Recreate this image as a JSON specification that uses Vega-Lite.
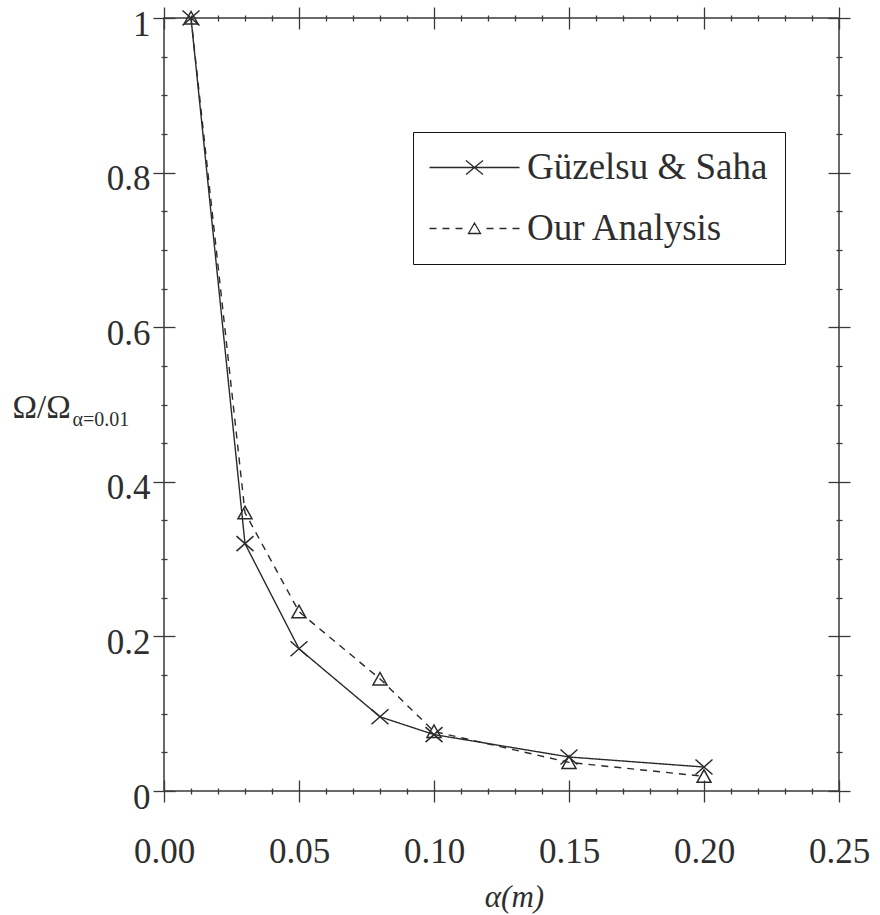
{
  "$schema": "https://vega.github.io/schema/vega-lite/v6.json",
  "width": 675,
  "height": 773,
  "autosize": {"type": "none"},
  "padding": {"left": 164, "top": 18, "right": 41, "bottom": 124},
  "background": "white",
  "config": {
    "view": {"stroke": "#3a3a3a", "strokeWidth": 1.5},
    "axis": {"grid": false, "domain": false, "tickColor": "#3a3a3a", "tickWidth": 1.3, "labelFont": "Liberation Serif", "titleFont": "Liberation Serif", "labelColor": "#2e2e2e", "titleColor": "#2e2e2e", "titleFontWeight": "normal", "labelFlush": false, "labelOverlap": false},
    "legend": {
      "title": null, "orient": "none", "direction": "vertical", "legendX": 249, "legendY": 114,
      "padding": 17, "strokeColor": "#111", "fillColor": "white",
      "labelFont": "Liberation Serif", "labelFontSize": 37, "labelColor": "#2e2e2e", "labelLimit": 0,
      "symbolSize": 400, "symbolOffset": 26, "labelOffset": 34, "rowPadding": 23,
      "symbolOpacity": 1, "symbolStrokeColor": "#2a2a2a", "symbolStrokeWidth": 1.3, "symbolFillColor": "transparent"
    }
  },
  "data": {"values": [
    {"a": 0.01, "r": 1.0, "s": "Güzelsu & Saha"},
    {"a": 0.03, "r": 0.32, "s": "Güzelsu & Saha"},
    {"a": 0.05, "r": 0.184, "s": "Güzelsu & Saha"},
    {"a": 0.08, "r": 0.096, "s": "Güzelsu & Saha"},
    {"a": 0.10, "r": 0.073, "s": "Güzelsu & Saha"},
    {"a": 0.15, "r": 0.044, "s": "Güzelsu & Saha"},
    {"a": 0.20, "r": 0.031, "s": "Güzelsu & Saha"},
    {"a": 0.01, "r": 1.0, "s": "Our Analysis"},
    {"a": 0.03, "r": 0.36, "s": "Our Analysis"},
    {"a": 0.05, "r": 0.232, "s": "Our Analysis"},
    {"a": 0.08, "r": 0.145, "s": "Our Analysis"},
    {"a": 0.10, "r": 0.077, "s": "Our Analysis"},
    {"a": 0.15, "r": 0.037, "s": "Our Analysis"},
    {"a": 0.20, "r": 0.019, "s": "Our Analysis"}
  ]},
  "resolve": {"axis": {"x": "independent", "y": "independent"}},
  "layer": [
    {
      "mark": {"type": "line", "color": "#2a2a2a", "strokeWidth": 1.4},
      "encoding": {
        "x": {"field": "a", "type": "quantitative", "scale": {"domain": [0, 0.25], "nice": false, "zero": false},
          "axis": {"orient": "bottom", "values": [0, 0.05, 0.1, 0.15, 0.2, 0.25], "format": ".2f", "offset": -11, "tickSize": 22, "labelFontSize": 35, "labelPadding": 32, "title": "α(m)", "titleFontStyle": "italic", "titleFontSize": 31, "titleX": 350, "titleY": 126, "titleAlign": "center", "titleBaseline": "alphabetic", "titleAnchor": null}},
        "y": {"field": "r", "type": "quantitative", "scale": {"domain": [0, 1], "nice": false, "zero": false},
          "axis": {"orient": "left", "values": [0, 0.2, 0.4, 0.6, 0.8, 1], "format": "~g", "offset": -11, "tickSize": 22, "labelFontSize": 35, "labelPadding": 3, "labelOffset": 6, "title": "Ω/Ω", "titleAngle": 0, "titleFontSize": 33, "titleX": -163, "titleY": 399, "titleAlign": "left", "titleBaseline": "alphabetic", "titleAnchor": null}},
        "detail": {"field": "s", "type": "nominal"},
        "strokeDash": {"condition": {"test": "datum.s === 'Our Analysis'", "value": [7, 6]}, "value": [1, 0]},
        "order": {"field": "a", "type": "quantitative"}
      }
    },
    {
      "mark": {"type": "point", "filled": false, "color": "#2a2a2a", "strokeWidth": 1.5, "size": 100, "opacity": 1},
      "encoding": {
        "x": {"field": "a", "type": "quantitative",
          "axis": {"orient": "bottom", "values": [0.01, 0.02, 0.03, 0.04, 0.06, 0.07, 0.08, 0.09, 0.11, 0.12, 0.13, 0.14, 0.16, 0.17, 0.18, 0.19, 0.21, 0.22, 0.23, 0.24], "offset": -3, "tickSize": 6, "labels": false, "title": null}},
        "y": {"field": "r", "type": "quantitative",
          "axis": {"orient": "left", "values": [0.05, 0.1, 0.15, 0.25, 0.3, 0.35, 0.45, 0.5, 0.55, 0.65, 0.7, 0.75, 0.85, 0.9, 0.95], "offset": -3, "tickSize": 6, "labels": false, "title": "α=0.01", "titleAngle": 0, "titleFontSize": 20, "titleX": -95, "titleY": 407, "titleAlign": "left", "titleBaseline": "alphabetic", "titleAnchor": null}},
        "shape": {"condition": {"test": "datum.s === 'Güzelsu & Saha'", "value": "M-1.7,-1.5L1.7,1.5M-1.7,1.5L1.7,-1.5"}, "value": "M-1.4,1.2L0,-1.3L1.4,1.2Z"}
      }
    },
    {
      "mark": {"type": "point", "opacity": 0, "filled": false, "color": "#2a2a2a"},
      "encoding": {
        "x": {"field": "a", "type": "quantitative",
          "axis": {"orient": "top", "values": [0, 0.05, 0.1, 0.15, 0.2, 0.25], "offset": -11, "tickSize": 22, "labels": false, "title": null}},
        "y": {"field": "r", "type": "quantitative",
          "axis": {"orient": "right", "values": [0, 0.2, 0.4, 0.6, 0.8, 1], "offset": -11, "tickSize": 22, "labels": false, "title": null}},
        "shape": {"field": "s", "type": "nominal",
          "scale": {"domain": ["Güzelsu & Saha", "Our Analysis"], "range": ["M-4.5,0H4.5M-0.85,-0.7L0.85,0.7M-0.85,0.7L0.85,-0.7", "M-4.5,0H-3.8M-3.2,0H-2.5M-1.9,0H-1.2M1.2,0H1.9M2.5,0H3.2M3.8,0H4.5M-0.6,0.5L0,-0.55L0.6,0.5Z"]},
          "legend": {"title": null}}
      }
    },
    {
      "mark": {"type": "point", "opacity": 0},
      "encoding": {
        "x": {"field": "a", "type": "quantitative",
          "axis": {"orient": "top", "values": [0.01, 0.02, 0.03, 0.04, 0.06, 0.07, 0.08, 0.09, 0.11, 0.12, 0.13, 0.14, 0.16, 0.17, 0.18, 0.19, 0.21, 0.22, 0.23, 0.24], "offset": -3, "tickSize": 6, "labels": false, "title": null}},
        "y": {"field": "r", "type": "quantitative",
          "axis": {"orient": "right", "values": [0.05, 0.1, 0.15, 0.25, 0.3, 0.35, 0.45, 0.5, 0.55, 0.65, 0.7, 0.75, 0.85, 0.9, 0.95], "offset": -3, "tickSize": 6, "labels": false, "title": null}}
      }
    }
  ]
}
